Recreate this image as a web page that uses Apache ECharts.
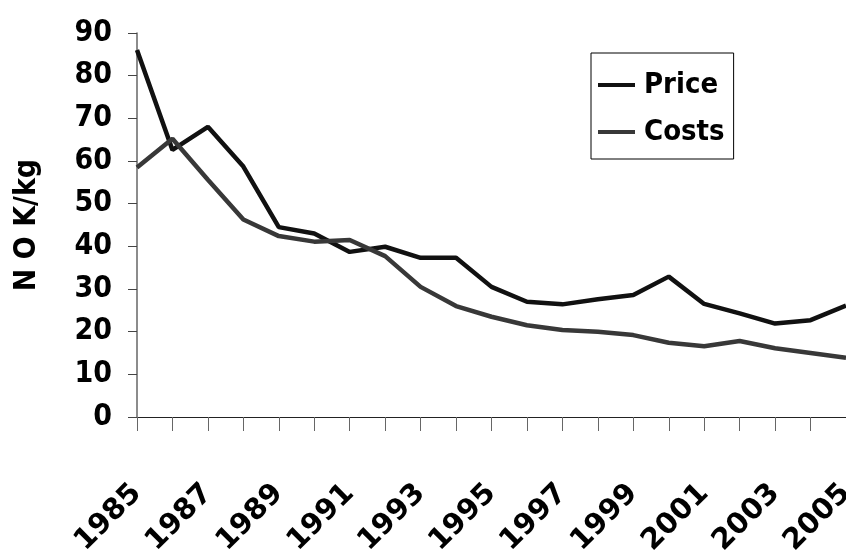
<!DOCTYPE html>
<html>
<head>
<meta charset="utf-8">
<script src="https://cdn.jsdelivr.net/npm/echarts@6/dist/echarts.min.js"></script>
<style>
    html, body { margin: 0; padding: 0; background: #fff; }
    #chart { width: 846px; height: 552px; }
</style>
</head>
<body>
<div id="chart"></div>
<script>
// years on the x axis
var years = ['1985','1986','1987','1988','1989','1990','1991','1992','1993','1994','1995',
             '1996','1997','1998','1999','2000','2001','2002','2003','2004','2005'];
// price, NOK/kg
var price = [86, 62.6, 68, 58.7, 44.5, 43, 38.7, 39.9, 37.3, 37.3, 30.5,
             27, 26.4, 27.6, 28.6, 32.9, 26.5, 24.3, 21.9, 22.7, 26.1];
// production costs, NOK/kg
var costs = [58.5, 65.2, 55.6, 46.3, 42.4, 41.1, 41.5, 37.7, 30.5, 26, 23.5,
             21.5, 20.4, 20, 19.2, 17.4, 16.6, 17.8, 16.1, 15, 13.9];

var font = '"DejaVu Sans", sans-serif';
var weight = 'bold condensed';

var myChart = echarts.init(document.getElementById('chart'));
var option = {
    animation: false,
    grid: {
        left: 137,
        right: 0,
        top: 33,
        bottom: 135,
        outerBoundsMode: 'none',
        containLabel: false
    },
    legend: {
        orient: 'vertical',
        left: 591,
        top: 53,
        padding: [17, 9, 12, 7],
        itemGap: 17,
        itemWidth: 37,
        itemHeight: 4,
        icon: 'rect',
        borderColor: '#000',
        borderWidth: 1,
        textStyle: {
            fontFamily: font,
            fontWeight: weight,
            fontSize: 29,
            lineHeight: 30,
            color: '#000',
            padding: [0, 0, 0, 4]
        },
        data: ['Price', 'Costs']
    },
    xAxis: {
        type: 'category',
        boundaryGap: false,
        data: years,
        axisLine: { lineStyle: { color: '#222', width: 1 } },
        axisTick: { alignWithLabel: true, length: 14, lineStyle: { color: '#666' }, interval: 0 },
        axisLabel: {
            interval: 1,
            rotate: 45,
            margin: 72,
            fontFamily: font,
            fontWeight: 'bold',
            fontSize: 29,
            color: '#000'
        },
        splitLine: { show: false }
    },
    yAxis: {
        type: 'value',
        min: 0,
        max: 90,
        interval: 10,
        name: 'N O K/kg',
        nameLocation: 'middle',
        nameGap: 95,
        nameTextStyle: {
            fontFamily: font,
            fontWeight: weight,
            fontSize: 30,
            color: '#000'
        },
        axisLine: { show: true, lineStyle: { color: '#666', width: 1.5 } },
        axisTick: { show: true, length: 9, lineStyle: { color: '#444' } },
        axisLabel: {
            margin: 25,
            fontFamily: font,
            fontWeight: weight,
            fontSize: 30,
            color: '#000'
        },
        splitLine: { show: false }
    },
    series: [
        {
            name: 'Price',
            type: 'line',
            data: price,
            symbol: 'none',
            color: '#111',
            lineStyle: { width: 4.5, color: '#111' }
        },
        {
            name: 'Costs',
            type: 'line',
            data: costs,
            symbol: 'none',
            color: '#383838',
            lineStyle: { width: 4.5, color: '#383838' }
        }
    ]
};
myChart.setOption(option);
</script>
</body>
</html>
